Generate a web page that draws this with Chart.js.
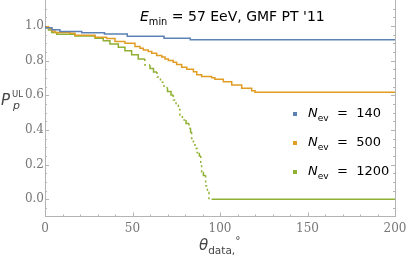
<!DOCTYPE html>
<html>
<head>
<meta charset="utf-8">
<script src="https://cdn.jsdelivr.net/npm/chart.js@4"></script>
<style>
  body { margin: 0; background: #fff; }
  #wrap { position: relative; width: 407px; height: 257px; }
  .lbl { position: absolute; font-family: "DejaVu Sans", sans-serif; color: #000; white-space: nowrap; }
  .lbl sub, .lbl sup { font-size: 70%; line-height: 0; }
  .sw { position: absolute; width: 4px; height: 4px; }
</style>
</head>
<body>
<div id="wrap">
  <canvas id="chart" width="407" height="257"></canvas>
  <div class="lbl" id="title" style="left:140px;top:8px;font-size:14px;"><i>E</i><sub>min</sub> = 57 EeV, GMF PT '11</div>
  <div class="lbl" style="left:1px;top:91px;font-size:15px;color:#444;"><i>P</i></div>
  <div class="lbl" style="left:12px;top:89px;font-size:8.5px;color:#444;">UL</div>
  <div class="lbl" style="left:13px;top:99px;font-size:11px;color:#444;"><i>p</i></div>
  <div class="lbl" id="xlab" style="left:199px;top:236px;font-size:15px;color:#444;"><i>θ</i><sub>data,</sub><sup>°</sup></div>
  <div id="legend"></div>
</div>
<script>
// Series: theta (deg) and upper-limit probability
const theta140 = [0, 4, 8.5, 21, 34, 47, 68, 83, 108, 200];
const p140 = [1.0, 0.99, 0.978, 0.968, 0.961, 0.953, 0.94, 0.929, 0.92, 0.92];

const theta500 = [0, 2, 3.8, 5.7, 14.3, 17.1, 28.6, 35.2, 40, 45.7, 51.4, 54.3, 56.2, 59, 61, 63.8,
  66.7, 68.6, 70.5, 73.3, 75.2, 78.1, 81, 84.8, 86.7, 89.5, 95.2, 97.1, 101.9, 106.7, 112.4,
  118.1, 120, 172, 200];
const p500 = [1.0, 0.995, 0.986, 0.971, 0.963, 0.958, 0.946, 0.935, 0.927, 0.911, 0.9, 0.882,
  0.872, 0.862, 0.852, 0.842, 0.829, 0.821, 0.809, 0.8, 0.79, 0.778, 0.761, 0.75, 0.736, 0.719,
  0.709, 0.701, 0.692, 0.678, 0.659, 0.64, 0.626, 0.617, 0.617];

const theta1200 = [0, 2, 3.8, 6.7, 17.1, 28.6, 33.3, 37.1, 41.9, 45.7, 49.5, 53.3, 57.1, 60, 62,
  64, 66, 68, 70, 72, 73.3, 74.9, 76.2, 77.1, 78.5, 80.6, 82.3, 83.2, 83.8, 84.8, 85.7, 87, 88.2,
  89, 89.5, 90.5, 91.8, 92.8, 93.7, 95.2, 200];
const p1200 = [1.0, 0.99, 0.977, 0.963, 0.952, 0.942, 0.929, 0.915, 0.896, 0.877, 0.857, 0.834,
  0.81, 0.775, 0.755, 0.735, 0.705, 0.675, 0.645, 0.622, 0.601, 0.572, 0.543, 0.518, 0.486, 0.457,
  0.437, 0.409, 0.386, 0.351, 0.322, 0.293, 0.268, 0.249, 0.206, 0.158, 0.137, 0.077, 0.04, 0, 0];

const legendLabels = ['140', '500', '1200'];
const colors = ['#5E81B5', '#E19C24', '#8FB032'];

const xTicks = [0, 50, 100, 150, 200];
const yTicks = [0, 0.2, 0.4, 0.6, 0.8, 1.0];

const frameColor = '#b4b4b4';

function toPoints(xs, ys) {
  return xs.map((x, i) => ({ x: x, y: ys[i] }));
}

// Legend (html so the subscripts stay real text)
const legend = document.getElementById('legend');
const legendTop = [105, 134, 163];
legendLabels.forEach((n, i) => {
  const sw = document.createElement('div');
  sw.className = 'sw';
  sw.style.left = '293px';
  sw.style.top = (legendTop[i] + 7) + 'px';
  sw.style.background = colors[i];
  legend.appendChild(sw);
  const t = document.createElement('div');
  t.className = 'lbl';
  t.style.left = '308px';
  t.style.top = legendTop[i] + 'px';
  t.style.fontSize = '13px';
  t.innerHTML = '<i>N</i><sub>ev</sub>&nbsp;&nbsp;=&nbsp;&nbsp;' + n;
  legend.appendChild(t);
});

// Frame ticks pointing inward, plus right border
const frameTicks = {
  id: 'frameTicks',
  beforeDatasetsDraw(chart) {
    const { ctx, chartArea: a, scales: { x, y } } = chart;
    ctx.save();
    ctx.strokeStyle = frameColor;
    ctx.lineWidth = 1;
    ctx.beginPath();
    for (let v = 0; v <= 200; v += 10) {
      const px = Math.round(x.getPixelForValue(v)) + 0.5;
      const len = v % 50 === 0 ? 4 : 2;
      ctx.moveTo(px, a.bottom);
      ctx.lineTo(px, a.bottom - len);
    }
    for (let k = -2; k <= 22; k++) {
      const v = k * 0.05;
      const py = Math.round(y.getPixelForValue(v)) + 0.5;
      if (py < a.top || py > a.bottom) continue;
      const len = k % 4 === 0 ? 4 : 2;
      ctx.moveTo(a.left, py);
      ctx.lineTo(a.left + len, py);
      ctx.moveTo(a.right, py);
      ctx.lineTo(a.right - len, py);
    }
    ctx.moveTo(Math.round(a.right) + 0.5, a.top);
    ctx.lineTo(Math.round(a.right) + 0.5, a.bottom);
    ctx.stroke();
    ctx.restore();
  }
};

const tickFont = { family: 'DejaVu Serif', size: 12 };

new Chart(document.getElementById('chart'), {
  type: 'line',
  data: {
    datasets: [
      { data: toPoints(theta140, p140), borderColor: colors[0] },
      { data: toPoints(theta500, p500), borderColor: colors[1] },
      {
        data: toPoints(theta1200, p1200), borderColor: colors[2],
        segment: {
          borderDash: c => (c.p0.parsed.y - c.p1.parsed.y > 0.024 ? [2, 3] : undefined)
        }
      }
    ].map(d => Object.assign({ stepped: 'after', borderWidth: 1.5, pointRadius: 0, fill: false }, d))
  },
  options: {
    responsive: false,
    animation: false,
    layout: { padding: { top: 0, right: 12, left: 0, bottom: 0 } },
    plugins: { legend: { display: false }, tooltip: { enabled: false } },
    scales: {
      x: {
        type: 'linear', min: 0, max: 200,
        afterBuildTicks: s => { s.ticks = xTicks.map(v => ({ value: v })); },
        afterFit: s => { s.height = 40.5; s.paddingLeft = 0; s.paddingRight = 0; },
        grid: { display: false, drawTicks: false },
        border: { color: frameColor },
        ticks: { font: tickFont, color: '#777', padding: 5, maxRotation: 0 }
      },
      y: {
        type: 'linear', min: -0.1, max: 1.15,
        afterBuildTicks: s => { s.ticks = yTicks.map(v => ({ value: v })); },
        afterFit: s => { s.width = 45; s.paddingTop = 0; s.paddingBottom = 0; },
        grid: { display: false, drawTicks: false },
        border: { color: frameColor },
        ticks: { font: tickFont, color: '#777', padding: 1, callback: v => v.toFixed(1) }
      }
    }
  },
  plugins: [frameTicks]
});
</script>
</body>
</html>
